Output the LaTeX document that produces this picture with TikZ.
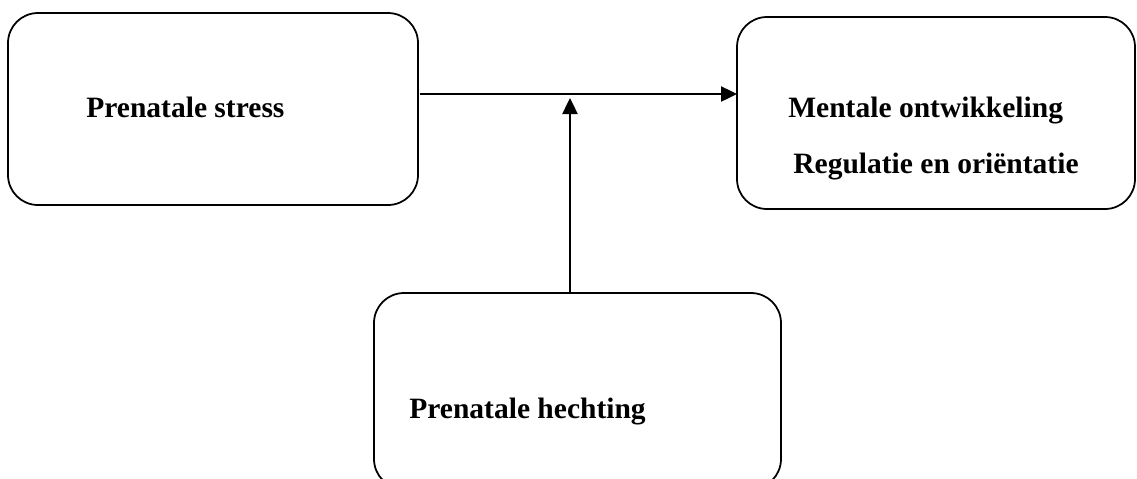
\documentclass[tikz,border=0pt]{standalone}
\usepackage{fontspec}
\setmainfont{Liberation Serif}
\usetikzlibrary{arrows.meta}

\begin{document}
\begin{tikzpicture}[x=0.02cm, y=-0.02cm,
    box/.style={draw, line width=1pt, rounded corners=0.6cm, inner sep=0pt, outer sep=0pt},
    label/.style={anchor=base west, inner sep=0pt, font=\fontsize{16.8}{20}\selectfont\bfseries},
    arrow/.style={line width=1.4pt, -{Triangle[length=0.32cm, width=0.3cm]}}]
    \useasboundingbox (0,0) rectangle (1137,478);

    % Boxes
    \node[box, minimum width=410*0.02cm, minimum height=192*0.02cm] (stress) at (213,109) {};
    \node[box, minimum width=398*0.02cm, minimum height=192*0.02cm] (mental) at (936,113) {};
    \node[box, minimum width=407*0.02cm, minimum height=196*0.02cm] (hechting) at (577.5,391) {};

    % Texts
    \node[label] (stresstext) at (86,117) {Prenatale stress};
    \node[label] (mentaltext) at (788,117) {Mentale ontwikkeling};
    \node[label] (regulatietext) at (793,173) {Regulatie en oriëntatie};
    \node[label] (hechtingtext) at (409,418) {Prenatale hechting};

    % Arrows
    \coordinate (line) at (570,94);
    \coordinate (meet) at (570,98);
    \draw[arrow] ([xshift=2*0.02cm]stress.east |- line) -- (mental.west |- line);
    \draw[arrow] (meet |- hechting.north) -- (meet);
\end{tikzpicture}
\end{document}
